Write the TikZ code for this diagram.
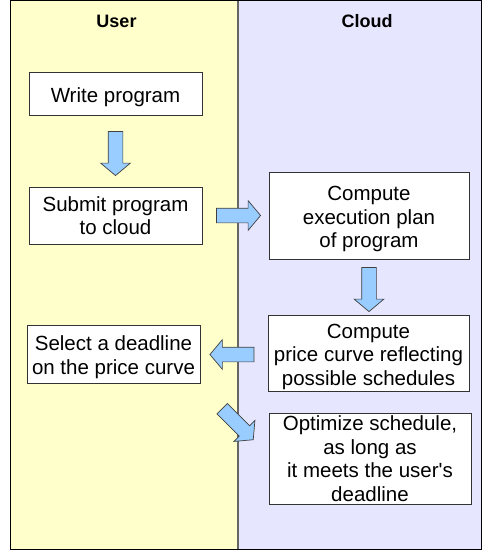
\documentclass[tikz,border=0pt]{standalone}
\usepackage{fontspec}
\setmainfont{Liberation Sans}
\usetikzlibrary{shapes.arrows}
\definecolor{userlane}{RGB}{255,255,204}
\definecolor{cloudlane}{RGB}{230,230,255}
\definecolor{arrowblue}{RGB}{153,204,255}
\newcommand\topstrut{\rule{0pt}{21.5pt}}

\begin{document}
\begin{tikzpicture}[
x=1pt, y=1pt,
font=\fontsize{20.5}{23.5}\selectfont,
stepbox/.style={draw=black!80, fill=white, line width=0.9pt, align=center, inner sep=1pt},
lanehead/.style={font=\fontsize{18}{21}\selectfont\bfseries},
blockarrow/.style={single arrow, draw=black!75, fill=arrowblue, line width=0.7pt,
  minimum height=44pt, minimum width=29pt, inner xsep=0pt, inner ysep=7pt,
  single arrow head extend=7.5pt, single arrow tip angle=100}
]
    \useasboundingbox (0,0) rectangle (482,-552);

    % Draw lanes
    \fill [userlane] (10,0) rectangle (238,-550);
    \fill [cloudlane] (238,0) rectangle (481,-550);
    \draw [black!60, line width=1.2pt] (238,0) -- (238,-550);
    \draw [black, line width=1pt] (10,-0.5) rectangle (481,-549.5);

    \node [lanehead] (user) at (116.5,-21) {User};
    \node [lanehead] (cloud) at (367,-21) {Cloud};

    % Steps
    \node [stepbox, minimum width=173pt, minimum height=43pt] (write) at (115.5,-93.5) {\topstrut Write program};
    \node [stepbox, minimum width=173pt, minimum height=57pt] (submit) at (115.5,-215.5) {Submit program\\to cloud};
    \node [stepbox, minimum width=200pt, minimum height=87pt] (plan) at (369,-215.5) {\topstrut Compute\\execution plan\\of program};
    \node [stepbox, minimum width=201pt, minimum height=76pt] (curve) at (368.5,-353) {\topstrut Compute\\price curve reflecting\\possible schedules};
    \node [stepbox, minimum width=173pt, minimum height=58pt] (select) at (113.5,-354) {\topstrut Select a deadline\\on the price curve};
    \node [stepbox, minimum width=202pt, minimum height=91pt] (optimize) at (370,-458.5) {Optimize schedule,\\as long as\\it meets the user\textquotesingle s\\deadline};

    % Block arrows
    \node [blockarrow, rotate=-90] (down1) at (115.5,-150.5) {};
    \node [blockarrow] (right1) at (235.5,-215.5) {};
    \node [blockarrow, rotate=-90] (down2) at (369,-286.5) {};
    \node [blockarrow, rotate=180] (left1) at (235,-354.5) {};
    \node [blockarrow, rotate=-45] (diag1) at (235.5,-422) {};

\end{tikzpicture}
\end{document}
